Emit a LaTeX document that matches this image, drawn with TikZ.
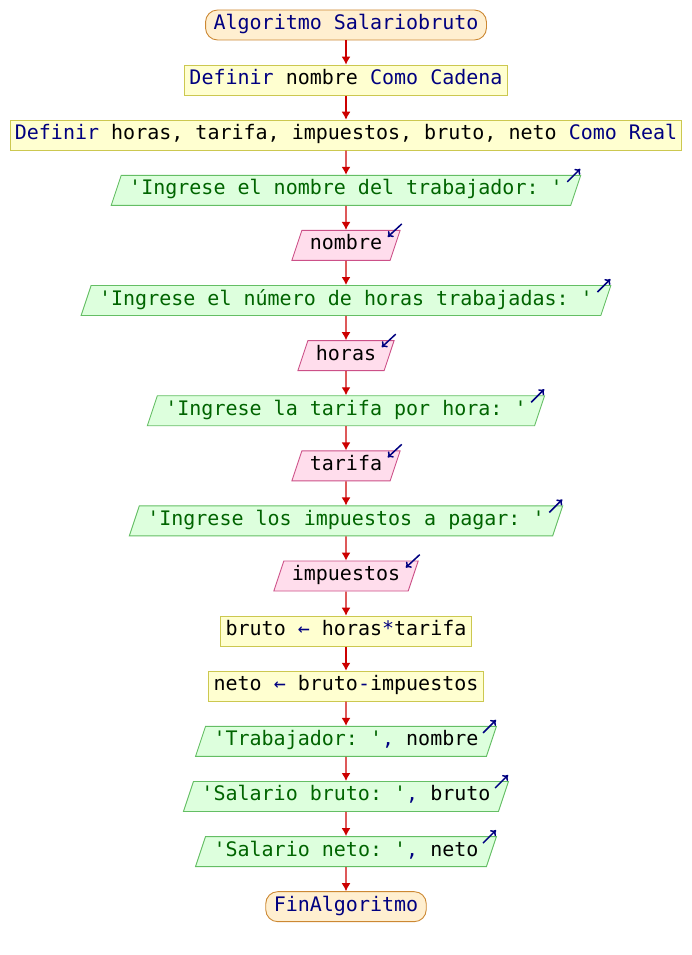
\documentclass[tikz,border=0pt]{standalone}
\usepackage{fontspec}
\setmonofont{DejaVu Sans Mono}
\usetikzlibrary{positioning,shapes.geometric,arrows.meta}

\definecolor{kwblue}{RGB}{0,0,128}
\definecolor{strgreen}{RGB}{0,100,0}
\definecolor{flowred}{RGB}{204,0,0}
\definecolor{termfill}{RGB}{255,239,208}
\definecolor{termdraw}{RGB}{204,136,51}
\definecolor{procfill}{RGB}{255,255,208}
\definecolor{procdraw}{RGB}{204,200,80}
\definecolor{outfill}{RGB}{221,255,221}
\definecolor{outdraw}{RGB}{100,190,100}
\definecolor{infill}{RGB}{255,221,236}
\definecolor{indraw}{RGB}{204,80,136}

\newcommand{\keyw}[1]{\textcolor{kwblue}{#1}}
\newcommand{\strlit}[1]{\textcolor{strgreen}{#1}}

\tikzset{
  base/.style={font=\ttfamily\fontsize{20}{24}\selectfont, text height=14pt,
    text depth=5pt, inner ysep=5.5pt, line width=0.9pt},
  term/.style={base, rectangle, rounded corners=12pt, draw=termdraw,
    fill=termfill, inner xsep=8pt, text=kwblue},
  proc/.style={base, rectangle, draw=procdraw, fill=procfill, inner xsep=5pt},
  outp/.style={base, trapezium, trapezium left angle=71.57,
    trapezium right angle=108.43, draw=outdraw, fill=outfill, inner xsep=8pt},
  inp/.style={outp, draw=indraw, fill=infill},
  flow/.style={draw=flowred, line width=1.4pt, -{Latex[length=8pt,width=9pt]}},
  iomark/.style={draw=kwblue, line width=1.5pt, -{To[length=5pt,width=8pt]}}
}

\begin{document}
\begin{tikzpicture}[x=1pt,y=1pt, node distance=24.2pt]
  \useasboundingbox (0,0) rectangle (692,-955);

  % Start and declarations
  \node[term] (start) at (346,-25) {Algoritmo Salariobruto};
  \node[proc, below=of start] (defnom) {\keyw{Definir} nombre \keyw{Como Cadena}};
  \node[proc, below=of defnom, inner xsep=4pt] (defvars)
    {\keyw{Definir} horas, tarifa, impuestos, bruto, neto \keyw{Como Real}};

  % Reading the data
  \node[outp, below=of defvars] (askname) {\strlit{'Ingrese el nombre del trabajador: '}};
  \node[inp, below=of askname] (name) {nombre};
  \node[outp, below=of name] (askhours) {\strlit{'Ingrese el número de horas trabajadas: '}};
  \node[inp, below=of askhours] (hours) {horas};
  \node[outp, below=of hours] (askrate) {\strlit{'Ingrese la tarifa por hora: '}};
  \node[inp, below=of askrate] (rate) {tarifa};
  \node[outp, below=of rate] (asktax) {\strlit{'Ingrese los impuestos a pagar: '}};
  \node[inp, below=of asktax] (tax) {impuestos};

  % Computing
  \node[proc, below=of tax] (gross) {bruto \keyw{←} horas\keyw{*}tarifa};
  \node[proc, below=of gross] (net) {neto \keyw{←} bruto\keyw{-}impuestos};

  % Results
  \node[outp, below=of net] (shownom) {\strlit{'Trabajador: '}\keyw{,} nombre};
  \node[outp, below=of shownom] (showgross) {\strlit{'Salario bruto: '}\keyw{,} bruto};
  \node[outp, below=of showgross] (shownet) {\strlit{'Salario neto: '}\keyw{,} neto};
  \node[term, below=of shownet] (stop) {FinAlgoritmo};

  % Connectors
  \foreach \a/\b in {start/defnom, defnom/defvars, defvars/askname, askname/name,
      name/askhours, askhours/hours, hours/askrate, askrate/rate, rate/asktax,
      asktax/tax, tax/gross, gross/net, net/shownom, shownom/showgross,
      showgross/shownet, shownet/stop}
    \draw[flow] (\a) -- (\b);

  % Output and input marks
  \foreach \n in {askname, askhours, askrate, asktax, shownom, showgross, shownet}
    \draw[iomark] ([shift={(-14pt,-7pt)}]\n.top right corner) -- ++(13pt,13pt);
  \foreach \n in {name, hours, rate, tax}
    \draw[iomark] ([shift={(1pt,6pt)}]\n.top right corner) -- ++(-14pt,-13pt);
\end{tikzpicture}
\end{document}
